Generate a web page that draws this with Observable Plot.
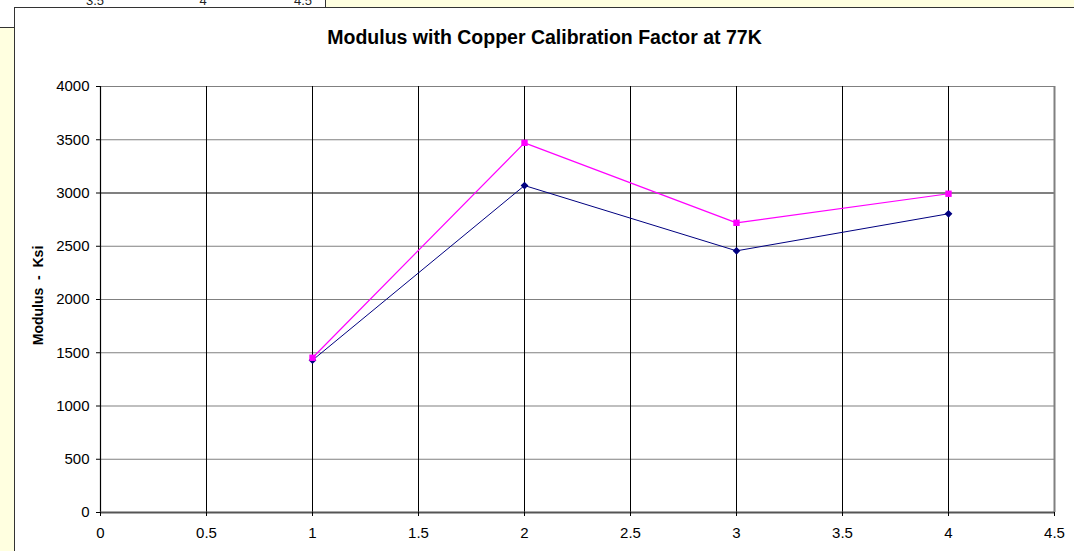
<!DOCTYPE html>
<html>
<head>
<meta charset="utf-8">
<script src="https://cdn.jsdelivr.net/npm/d3@7"></script>
<script src="https://cdn.jsdelivr.net/npm/@observablehq/plot@0.6"></script>
<style>
  html, body { margin: 0; padding: 0; background: #fff; }
  body { width: 1074px; height: 551px; position: relative; overflow: hidden; font-family: "Liberation Sans", Arial, sans-serif; }
  .yellow { position: absolute; background: #ffffe0; }
  .box { position: absolute; left: 14px; top: 7px; width: 1070px; height: 560px; background: #fff; border-left: 1.5px solid #333; border-top: 1.5px solid #333; }
  #bgticks { position: absolute; left: 15px; top: 0; width: 309px; height: 8px; overflow: hidden; }
  #bgticks span { position: absolute; top: -7px; font-size: 13px; color: #222; transform: translateX(-50%); }
  #title { position: absolute; left: 15px; width: 1059px; top: 26px; text-align: center; font-weight: bold; font-size: 19.5px; color: #000; white-space: nowrap; }
  #chart { position: absolute; left: 0; top: 0; }
</style>
</head>
<body>
<div class="yellow" style="left:0; top:27px; width:15px; height:524px; border-top:1.5px solid #333;"></div>
<div class="yellow" style="left:325px; top:0; width:749px; height:8px; border-left:1.5px solid #333;"></div>
<div id="bgticks"><span style="left:80px">3.5</span><span style="left:188px">4</span><span style="left:288px">4.5</span></div>
<div class="box"></div>
<div id="chart"></div>
<div id="title">Modulus with Copper Calibration Factor at 77K</div>
<script>
const samples = [1, 2, 3, 4];
const seriesBlue = [1430, 3070, 2457, 2805];
const seriesPink = [1453, 3471, 2720, 2993];
const xTicks = [0, 0.5, 1, 1.5, 2, 2.5, 3, 3.5, 4, 4.5];
const yTicks = [0, 500, 1000, 1500, 2000, 2500, 3000, 3500, 4000];

const blue = samples.map((x, i) => ({x, y: seriesBlue[i]}));
const pink = samples.map((x, i) => ({x, y: seriesPink[i]}));

const chart = Plot.plot({
  width: 1074,
  height: 551,
  marginLeft: 100,
  marginRight: 20,
  marginTop: 86,
  marginBottom: 39,
  style: { background: "transparent", fontFamily: "Liberation Sans, Arial, sans-serif", fontSize: "15px", color: "#000", overflow: "visible" },
  x: { domain: [0, 4.5] },
  y: { domain: [0, 4000] },
  marks: [
    Plot.ruleY(yTicks.filter(d => d !== 0 && d !== 3000), { y: d => d, stroke: "#808080", strokeWidth: 1.2 }),
    Plot.ruleY([3000], { y: d => d, stroke: "#808080", strokeWidth: 2.2 }),
    Plot.ruleX(xTicks.filter(d => d !== 0 && d !== 4.5), { x: d => d, stroke: "#000", strokeWidth: 1 }),
    Plot.ruleX([4.5], { x: d => d, stroke: "#808080", strokeWidth: 2 }),
    Plot.ruleX([0], { x: d => d, stroke: "#000", strokeWidth: 1.2 }),
    Plot.ruleY([0], { y: d => d, stroke: "#555", strokeWidth: 2 }),
    Plot.axisY({ ticks: yTicks, tickFormat: d => String(d), tickSize: 4, tickPadding: 7, fontSize: 15, label: null, stroke: "#000" }),
    Plot.axisX({ ticks: xTicks, tickFormat: d => String(d), tickSize: 4, tickPadding: 11, fontSize: 15, label: null, stroke: "#000" }),
    Plot.line(blue, { x: "x", y: "y", stroke: "#000080", strokeWidth: 1 }),
    Plot.line(pink, { x: "x", y: "y", stroke: "#ff00ff", strokeWidth: 1.2 }),
    Plot.dot(blue, { x: "x", y: "y", symbol: "diamond2", r: 3.5, fill: "#000080", stroke: "none" }),
    Plot.dot(pink, { x: "x", y: "y", symbol: "square", r: 3.6, fill: "#ff00ff", stroke: "none" }),
    Plot.text(["Modulus  -  Ksi"], { frameAnchor: "left", textAnchor: "middle", dx: -62, dy: -4, rotate: -90, text: d => d, fontWeight: "bold", fontSize: 14 })
  ]
});
document.getElementById("chart").appendChild(chart);
</script>
</body>
</html>
